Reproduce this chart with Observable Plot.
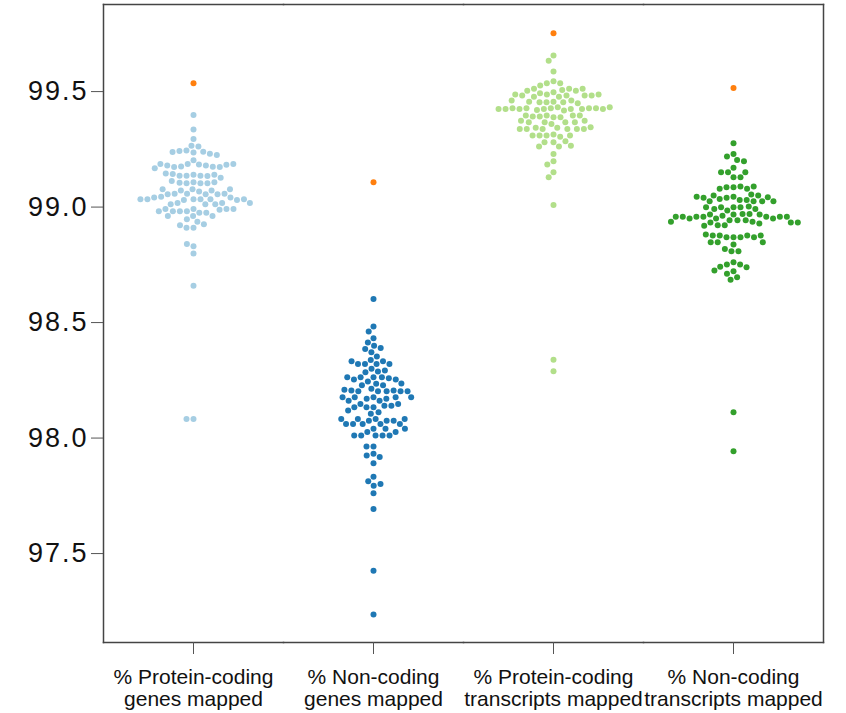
<!DOCTYPE html>
<html>
<head>
<meta charset="utf-8">
<script src="https://cdn.jsdelivr.net/npm/d3@7"></script>
<script src="https://cdn.jsdelivr.net/npm/@observablehq/plot@0.6"></script>
<style>
  body { margin: 0; background: #fff; }
  #chart svg [aria-label="y-axis tick label"] { letter-spacing: 2px; }
</style>
</head>
<body>
<div id="chart"></div>
<script>
const categories = [
  "% Protein-coding\ngenes mapped",
  "% Non-coding\ngenes mapped",
  "% Protein-coding\ntranscripts mapped",
  "% Non-coding\ntranscripts mapped"
];

const colors = ["#a6cee3", "#1f78b4", "#b2df8a", "#33a02c"];
const highlightColor = "#ff7f0e";

const yTicks = [97.5, 98.0, 98.5, 99.0, 99.5];

// one highlighted sample per category (orange)
const highlight = [99.536, 99.107, 99.752, 99.516];

const proteinGenes = [
  99.399, 99.336, 99.295, 99.266, 99.262,
  99.245, 99.240, 99.236, 99.243, 99.231, 99.238, 99.226,
  99.203,
  99.186, 99.184, 99.180, 99.176, 99.175, 99.174, 99.173, 99.180, 99.183, 99.186, 99.187, 99.168,
  99.140, 99.136, 99.136, 99.135, 99.136, 99.140, 99.143, 99.145, 99.127,
  99.107, 99.103, 99.103, 99.103, 99.105, 99.107, 99.113,
  99.077, 99.067, 99.058, 99.056, 99.072, 99.072, 99.058, 99.056, 99.056, 99.058, 99.077, 99.077,
  99.034, 99.034, 99.031, 99.045, 99.042, 99.042, 99.034, 99.031, 99.034, 99.034, 99.034,
  99.012, 99.018, 99.012, 99.012, 99.018, 99.018,
  98.992, 98.982, 98.975, 98.975, 98.982, 98.988, 98.992, 98.992, 98.982, 98.982, 98.992,
  98.961, 98.961, 98.961, 98.947,
  98.937, 98.926,
  98.910, 98.910, 98.921,
  98.830, 98.840,
  98.799,
  98.659,
  98.083, 98.083
];

const noncodingGenes = [
  98.602,
  98.483, 98.461, 98.432, 98.414, 98.400,
  98.390, 98.386, 98.372, 98.353,
  98.338, 98.321, 98.333, 98.321, 98.321, 98.321, 98.333,
  98.300, 98.288, 98.285, 98.292,
  98.263, 98.263, 98.245, 98.263, 98.259, 98.254, 98.254, 98.263,
  98.235, 98.236, 98.229, 98.229,
  98.213, 98.203, 98.203, 98.203, 98.206, 98.206, 98.209, 98.203, 98.203,
  98.177, 98.170, 98.162, 98.170, 98.177, 98.177, 98.162, 98.177, 98.177,
  98.133, 98.133, 98.140, 98.148, 98.140, 98.148, 98.133,
  98.112, 98.119, 98.105,
  98.083, 98.075, 98.061, 98.061, 98.075, 98.083, 98.075, 98.061, 98.061, 98.061, 98.083, 98.083,
  98.040, 98.026, 98.011, 98.011, 98.011, 98.011, 98.011, 98.026, 98.040, 98.040,
  97.963, 97.963,
  97.932, 97.925, 97.918, 97.891,
  97.833, 97.813, 97.794, 97.801, 97.761,
  97.693,
  97.426,
  97.236
];

const proteinTranscripts = [
  99.656, 99.634, 99.587,
  99.545, 99.536, 99.536, 99.526,
  99.497, 99.487, 99.507, 99.512, 99.512, 99.504, 99.504, 99.493, 99.512,
  99.483, 99.483, 99.483, 99.478, 99.478, 99.483, 99.487, 99.487,
  99.456, 99.454, 99.461, 99.454, 99.454, 99.456, 99.449, 99.461,
  99.432, 99.428, 99.425, 99.418, 99.420, 99.425, 99.428, 99.425, 99.425, 99.428, 99.428, 99.428, 99.425, 99.425, 99.425, 99.432,
  99.389, 99.396, 99.396, 99.392, 99.392, 99.396, 99.396, 99.389,
  99.367, 99.367, 99.367, 99.360, 99.367, 99.374, 99.374,
  99.343, 99.338, 99.338, 99.343, 99.338, 99.338, 99.338, 99.338, 99.346,
  99.314, 99.310, 99.305, 99.310, 99.310, 99.310,
  99.281, 99.281, 99.285, 99.262, 99.262, 99.266,
  99.230,
  99.198, 99.184,
  99.151, 99.129,
  99.009,
  98.339, 98.289
];

const noncodingTranscripts = [
  99.276,
  99.230, 99.219, 99.204, 99.198,
  99.170,
  99.151, 99.129, 99.129, 99.151, 99.151,
  99.086, 99.086, 99.089, 99.079, 99.079, 99.089,
  99.045, 99.040, 99.031, 99.031, 99.035, 99.054, 99.050, 99.050, 99.025, 99.025, 99.025, 99.040, 99.043, 99.045, 99.025,
  98.999, 98.985, 98.999, 98.999, 99.002, 98.992, 98.992, 98.999,
  98.968, 98.970, 98.963, 98.970, 98.968, 98.968,
  98.958, 98.958, 98.958, 98.943, 98.943, 98.951, 98.951, 98.943, 98.951, 98.958, 98.958, 98.958, 98.958,
  98.936, 98.921, 98.921, 98.933, 98.929, 98.933, 98.936, 98.933, 98.919,
  98.869, 98.869, 98.869, 98.877, 98.877, 98.877, 98.869, 98.877, 98.881,
  98.838, 98.848, 98.848, 98.848,
  98.809, 98.809, 98.819,
  98.761, 98.751, 98.751, 98.742, 98.739,
  98.722, 98.725, 98.711,
  98.696, 98.685,
  98.112,
  97.943
];

const groups = [proteinGenes, noncodingGenes, proteinTranscripts, noncodingTranscripts];
const rows = [];
groups.forEach((vals, i) => {
  vals.forEach(v => rows.push({category: categories[i], value: v, kind: categories[i]}));
  rows.push({category: categories[i], value: highlight[i], kind: "highlight"});
});

const frameStyle = {stroke: "#444", strokeWidth: 1.5};

const chart = Plot.plot({
  width: 846,
  height: 713,
  marginLeft: 102,
  marginRight: 23,
  marginTop: 4,
  marginBottom: 71,
  style: {fontFamily: "'Liberation Sans', Arial, Helvetica, sans-serif", background: "#fff", color: "#111"},
  fx: {domain: categories, padding: 0},
  y: {domain: [97.115, 99.877]},
  color: {domain: [...categories, "highlight"], range: [...colors, highlightColor]},
  marks: [
    Plot.frame({anchor: "top", ...frameStyle}),
    Plot.frame({anchor: "bottom", ...frameStyle}),
    Plot.frame({anchor: "left", facetAnchor: "left", ...frameStyle}),
    Plot.frame({anchor: "right", facetAnchor: "right", ...frameStyle}),
    Plot.axisY({ticks: yTicks, tickFormat: d3.format(".1f"), tickSize: 12, tickPadding: 3, fontSize: 27, label: null, stroke: "#555", fill: "#111"}),
    Plot.axisFx({anchor: "bottom", tickSize: 12, tickPadding: 14, fontSize: 21, lineHeight: 1.05, label: null, stroke: "#555", fill: "#111"}),
    Plot.dot(rows, Plot.dodgeX("middle", {fx: "category", y: "value", r: 3, padding: 1.5, fill: "kind"}))
  ]
});

document.getElementById("chart").appendChild(chart);
</script>
</body>
</html>
